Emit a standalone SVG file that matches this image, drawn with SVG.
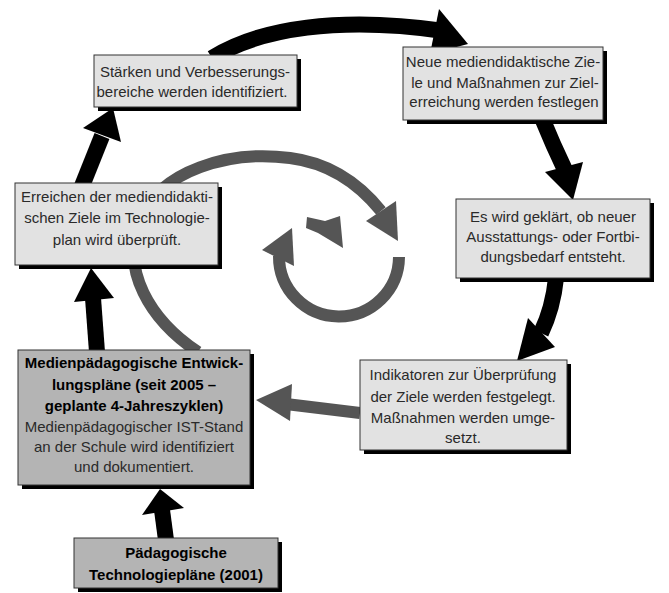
<svg xmlns="http://www.w3.org/2000/svg" width="669" height="593" viewBox="0 0 669 593">
<style>
  .shadow { fill: #000; }
  .light { fill: #e2e2e2; stroke: #333; stroke-width: 1; }
  .dark { fill: #b4b4b4; stroke: #333; stroke-width: 1; }
  .t { font-family: "Liberation Sans", Arial, sans-serif; font-size: 15px; fill: #2a2a2a; text-anchor: middle; }
  .b { font-weight: bold; fill: #000; }
  .blk { fill: none; stroke: #000; stroke-width: 16; }
  .gry { fill: none; stroke: #555; stroke-width: 12; }
  .hb { fill: #000; }
  .hg { fill: #555; }
</style>
<rect width="669" height="593" fill="#fff"/>
<g id="connectors">
  <!-- gray big arc -->
  <path class="gry" d="M 198 352 C 150 320, 120 270, 140 220 C 160 170, 230 150, 290 158 C 330 163, 360 185, 381 211"/>
  <polygon class="hg" points="366,221 396,201 398,241"/>
  <!-- gray small ring -->
  <path class="gry" d="M 399 257 A 60 60 0 1 1 279 256"/>
  <polygon class="hg" points="292,228 262,250 294,266"/>
  <!-- small arrow piece -->
  <polygon class="hg" points="307,217 325,221 340,216 343,248 318,233 306,228"/>
  <!-- gray box6 -> box5 -->
  <path class="gry" d="M 360 413 L 286 404" stroke-width="13"/>
  <polygon class="hg" points="256,400 292,384 290,421"/>
  <!-- black: box1 -> box2 -->
  <path class="blk" d="M 212 58 C 260 28, 340 16, 444 31"/>
  <polygon class="hb" points="468,44 439,9 430,54"/>
  <!-- black: box2 -> box4 -->
  <path class="blk" d="M 542 118 Q 553 145 565 170"/>
  <polygon class="hb" points="545,172 583,162 573,200"/>
  <!-- black: box4 -> box6 -->
  <path class="blk" d="M 556 278 Q 553 308 541 333"/>
  <polygon class="hb" points="528,318 555,347 517,361"/>
  <!-- black: box5 -> box3 -->
  <path class="blk" d="M 97 352 L 93 298"/>
  <polygon class="hb" points="74,302 114,298 91,268"/>
  <!-- black: box3 -> box1 -->
  <path class="blk" d="M 82 186 L 102 136"/>
  <polygon class="hb" points="83,128 121,142 113,108"/>
  <!-- black: box7 -> box5 -->
  <path class="blk" d="M 166 540 L 162 510"/>
  <polygon class="hb" points="142,515 184,508 160,489"/>
</g>
<g id="n1">
  <rect class="shadow" x="98" y="59" width="203" height="52"/>
  <rect class="light" x="94" y="55" width="203" height="52"/>
  <text class="t" x="195" y="77">Stärken und Verbesserungs-</text>
  <text class="t" x="192" y="97">bereiche werden identifiziert.</text>
</g>
<g id="n2">
  <rect class="shadow" x="407" y="51" width="200" height="73"/>
  <rect class="light" x="403" y="47" width="200" height="73"/>
  <text class="t" x="503" y="67">Neue mediendidaktische Zie-</text>
  <text class="t" x="505" y="88">le und Maßnahmen zur Ziel-</text>
  <text class="t" x="504" y="107">erreichung werden festlegen</text>
</g>
<g id="n3">
  <rect class="shadow" x="19" y="187" width="203" height="82"/>
  <rect class="light" x="15" y="183" width="203" height="82"/>
  <text class="t" x="117" y="202">Erreichen der mediendidakti-</text>
  <text class="t" x="117" y="223">schen Ziele im Technologie-</text>
  <text class="t" x="117" y="245">plan wird überprüft.</text>
</g>
<g id="n4">
  <rect class="shadow" x="460" y="203" width="194" height="79"/>
  <rect class="light" x="456" y="199" width="194" height="79"/>
  <text class="t" x="553" y="222">Es wird geklärt, ob neuer</text>
  <text class="t" x="553" y="242">Ausstattungs- oder Fortbi-</text>
  <text class="t" x="553" y="262">dungsbedarf entsteht.</text>
</g>
<g id="n5">
  <rect class="shadow" x="22" y="354" width="232" height="135"/>
  <rect class="dark" x="18" y="350" width="232" height="135"/>
  <text class="t b" x="134" y="368">Medienpädagogische Entwick-</text>
  <text class="t b" x="134" y="390">lungspläne (seit 2005 –</text>
  <text class="t b" x="134" y="411">geplante 4-Jahreszyklen)</text>
  <text class="t" x="134" y="432">Medienpädagogischer IST-Stand</text>
  <text class="t" x="134" y="452">an der Schule wird identifiziert</text>
  <text class="t" x="134" y="472">und dokumentiert.</text>
</g>
<g id="n6">
  <rect class="shadow" x="364" y="364" width="207" height="90"/>
  <rect class="light" x="360" y="360" width="207" height="90"/>
  <text class="t" x="463" y="380">Indikatoren zur Überprüfung</text>
  <text class="t" x="463" y="402">der Ziele werden festgelegt.</text>
  <text class="t" x="463" y="423">Maßnahmen werden umge-</text>
  <text class="t" x="463" y="443">setzt.</text>
</g>
<g id="n7">
  <rect class="shadow" x="78" y="542" width="204" height="50"/>
  <rect class="dark" x="74" y="538" width="204" height="50"/>
  <text class="t b" x="176" y="558">Pädagogische</text>
  <text class="t b" x="176" y="580">Technologiepläne (2001)</text>
</g>
</svg>
